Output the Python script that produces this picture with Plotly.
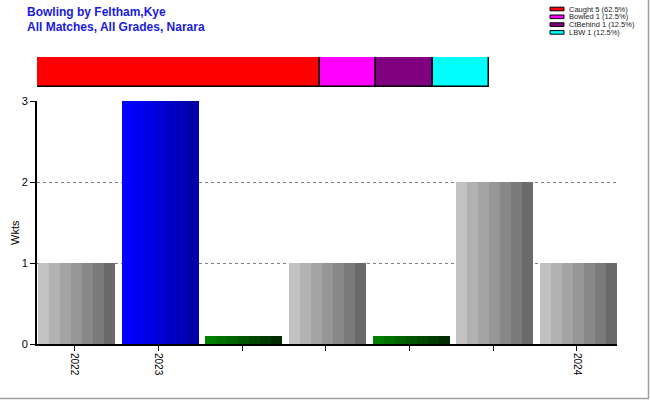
import plotly.graph_objects as go
from itertools import accumulate

# ---- data ----
categories = ["2022", "2023", "", "", "", "", "2024"]
wkts = [1, 3, 0.1, 1, 0.1, 2, 1]
bar_kind = ["gray", "blue", "green", "gray", "green", "gray", "gray"]

dismissal_labels = ["Caught 5 (62.5%)", "Bowled 1 (12.5%)", "CtBehind 1 (12.5%)", "LBW 1 (12.5%)"]
dismissal_counts = [5, 1, 1, 1]
dismissal_colors = ["#ff0000", "#ff00ff", "#800080", "#00ffff"]

# ---- styling ----
stripes = {
    "gray": ["#c2c2c2", "#b2b2b2", "#a4a4a4", "#969696", "#888888", "#7a7a7a", "#6a6a6a"],
    "blue": ["#0000fc", "#0000f0", "#0000e4", "#0000d6", "#0000c6", "#0000b6", "#0000a6"],
    "green": ["#008000", "#007200", "#006400", "#005600", "#004800", "#003a00", "#002c00"],
}
n_stripes = 7
bar_w = 0.92
bar_shift = 0.02

xs = list(range(len(categories)))
fig = go.Figure()

for k in range(n_stripes):
    fig.add_trace(go.Bar(
        x=xs, y=wkts,
        width=bar_w / n_stripes,
        offset=bar_shift - bar_w / 2 + k * bar_w / n_stripes,
        marker=dict(color=[stripes[c][k] for c in bar_kind], line=dict(width=0)),
        showlegend=False, hoverinfo="skip",
        xaxis="x", yaxis="y",
    ))

bases = [0] + list(accumulate(dismissal_counts))[:-1]
for lab, cnt, b, col in zip(dismissal_labels, dismissal_counts, bases, dismissal_colors):
    fig.add_trace(go.Bar(
        x=[cnt], y=[0], base=[b], orientation="h", name=lab,
        width=1, showlegend=False, hoverinfo="skip",
        marker=dict(color=col, line=dict(color="black", width=1.5)),
        xaxis="x2", yaxis="y2",
    ))

ML = 37
W = 580.0
H = 344.0          # plot area height (t = 0)
MB = 400 - int(H)


def px_x(p):
    return (p - ML) / W


def px_y(p):
    return (H - p) / H


shapes = [
    dict(type="line", xref="paper", yref="paper",
         x0=px_x(648.5), x1=px_x(648.5), y0=px_y(0), y1=px_y(398.5),
         line=dict(color="#a0a0a0", width=1.5)),
    dict(type="line", xref="paper", yref="paper",
         x0=px_x(0), x1=px_x(649), y0=px_y(398.5), y1=px_y(398.5),
         line=dict(color="#a0a0a0", width=1.5)),
]
annotations = [
    dict(text="<b>Bowling by Feltham,Kye</b>", xref="paper", yref="paper",
         x=px_x(25), y=px_y(12), xanchor="left", yanchor="middle",
         showarrow=False, font=dict(size=12, color="#1a1adc")),
    dict(text="<b>All Matches, All Grades, Narara</b>", xref="paper", yref="paper",
         x=px_x(25), y=px_y(27), xanchor="left", yanchor="middle",
         showarrow=False, font=dict(size=12, color="#1a1adc")),
    dict(text="Wkts", xref="paper", yref="paper", textangle=-90,
         x=px_x(15), y=px_y(233), xanchor="center", yanchor="middle",
         showarrow=False, font=dict(size=11, color="black")),
]
# legend swatches and labels
for i, (lab, col) in enumerate(zip(dismissal_labels, dismissal_colors)):
    cy = 9 + 7.8 * i
    shapes.append(dict(type="rect", xref="paper", yref="paper",
                       x0=px_x(550), x1=px_x(564), y0=px_y(cy - 1.8), y1=px_y(cy + 1.8),
                       fillcolor=col, line=dict(color="black", width=1)))
    annotations.append(dict(text=lab, xref="paper", yref="paper",
                            x=px_x(567), y=px_y(cy), xanchor="left", yanchor="middle",
                            showarrow=False, font=dict(size=7.5, color="#222222")))

fig.update_layout(
    width=650, height=400,
    margin=dict(l=ML, r=650 - ML - int(W), t=0, b=MB, autoexpand=False),
    paper_bgcolor="white", plot_bgcolor="white",
    barmode="overlay", bargap=0,
    font=dict(family="Arial, Liberation Sans, sans-serif", size=11, color="black"),
    showlegend=False,
    xaxis=dict(
        domain=[0, 1], range=[-0.45, len(categories) - 0.52],
        tickmode="array", tickvals=xs, ticktext=categories,
        tickangle=90, ticks="outside", ticklen=5, tickcolor="black",
        showline=True, linecolor="black", linewidth=2,
        showgrid=False, zeroline=False, anchor="y", automargin=False,
        tickfont=dict(size=10),
    ),
    yaxis=dict(
        domain=[0, px_y(101)], range=[0, 3],
        tickvals=[0, 1, 2, 3], ticks="outside", ticklen=5, tickcolor="black",
        showline=True, linecolor="black", linewidth=2,
        showgrid=True, gridcolor="#808080", griddash="3px,3px", gridwidth=1,
        zeroline=False, anchor="x", automargin=False,
        tickfont=dict(size=11),
    ),
    xaxis2=dict(
        domain=[0, px_x(489)], range=[0, sum(dismissal_counts)],
        visible=False, anchor="y2", automargin=False,
    ),
    yaxis2=dict(
        domain=[px_y(87), px_y(57)], range=[-0.5, 0.5],
        visible=False, anchor="x2", automargin=False,
    ),
    annotations=annotations,
    shapes=shapes,
)

fig.write_html("out.html", config={"displayModeBar": False},
               post_script="document.body.style.margin='0px';")
